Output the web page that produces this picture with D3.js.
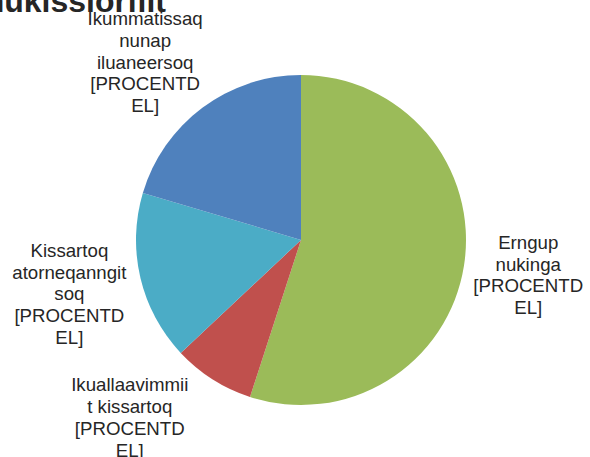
<!DOCTYPE html>
<html>
<head>
<meta charset="utf-8">
<script src="https://cdn.jsdelivr.net/npm/d3@7"></script>
<style>
  body { margin: 0; background: #fff; }
  text { font-family: Arial, 'Liberation Sans', sans-serif; }
</style>
</head>
<body>
<svg id="pie" width="590" height="457"></svg>
<script>
// data (share of the total, clockwise from 12 o'clock)
let categories = ['Erngup nukinga', 'Ikuallaavimmiit kissartoq', 'Kissartoq atorneqanngitsoq', 'Ikummatissaq nunap iluaneersoq']
let shares = [55.0, 8.0, 16.6, 20.4]
let labelLines = [
  ['Erngup', 'nukinga', '[PROCENTD', 'EL]'],
  ['Ikuallaavimmii', 't kissartoq', '[PROCENTD', 'EL]'],
  ['Kissartoq', 'atorneqanngit', 'soq', '[PROCENTD', 'EL]'],
  ['Ikummatissaq', 'nunap', 'iluaneersoq', '[PROCENTD', 'EL]']
]
let colors = ['#9bbb59', '#c0504d', '#4bacc6', '#4f81bd']
let title = 'nukissiorfiit'

let data = categories.map(function (c, i) { return { name: c, value: shares[i], lines: labelLines[i] } })

let svg = d3.select('#pie')
let cx = 301
let cy = 240
let radius = 165
let fontSize = 18.67
let lineH = 21.7
let labelDist = 176
let topLimit = 9 - cy
let bottomLimit = 462 - cy

// title, cropped at the top of the picture
svg.append('text')
  .attr('x', 166)
  .attr('y', 12)
  .attr('text-anchor', 'end')
  .attr('font-size', 32)
  .attr('font-weight', 'bold')
  .attr('fill', '#262626')
  .text(title)

let g = svg.append('g').attr('transform', 'translate(' + cx + ',' + cy + ')')

let color = d3.scaleOrdinal().domain(categories).range(colors)

let pie = d3.pie()
  .sort(null)
  .value(function (d) { return d.value })

let arc = d3.arc()
  .outerRadius(radius)
  .innerRadius(0)

let arcs = pie(data)

g.selectAll('.slice')
  .data(arcs)
  .enter().append('path')
  .attr('class', 'slice')
  .attr('d', arc)
  .attr('fill', function (d) { return color(d.data.name) })

// distance from pie centre to a box centred at (x, y)
function boxDist (x, y, a, b) {
  let dx = Math.max(Math.abs(x) - a, 0)
  let dy = Math.max(Math.abs(y) - b, 0)
  return Math.hypot(dx, dy)
}

// nearest distance from the pie centre to any line of a label centred at (x, y)
function labelGap (x, y, widths) {
  let top = y - widths.length * lineH / 2
  return d3.min(widths, function (w, i) {
    return boxDist(x, top + (i + 0.5) * lineH, w / 2, lineH / 2)
  })
}

function solve (f) {
  let lo = 0
  let hi = 800
  for (let k = 0; k < 60; k++) {
    let mid = (lo + hi) / 2
    if (f(mid) < labelDist) lo = mid
    else hi = mid
  }
  return (lo + hi) / 2
}

let labels = g.selectAll('.lbl')
  .data(arcs)
  .enter().append('text')
  .attr('class', 'lbl')
  .attr('font-size', fontSize)
  .attr('fill', '#262626')
  .attr('text-anchor', 'middle')

labels.each(function (d) {
  let t = d3.select(this)
  d.data.lines.forEach(function (line) {
    t.append('tspan').attr('x', 0).text(line)
  })
  let widths = t.selectAll('tspan').nodes().map(function (n) { return n.getComputedTextLength() })
  let b = widths.length * lineH / 2
  let ang = (d.startAngle + d.endAngle) / 2
  let ux = Math.sin(ang)
  let uy = -Math.cos(ang)
  let s = solve(function (k) { return labelGap(k * ux, k * uy, widths) })
  let px = s * ux
  let py = s * uy
  // keep the label inside the chart area, sliding it sideways round the pie
  if (py + b > bottomLimit || py - b < topLimit) {
    py = py + b > bottomLimit ? bottomLimit - b : topLimit + b
    let sx = ux < 0 ? -1 : 1
    px = sx * solve(function (k) { return labelGap(sx * k, py, widths) })
  }
  let y0 = py - b + lineH * 0.75
  t.selectAll('tspan')
    .attr('x', px)
    .attr('y', function (_, i) { return y0 + i * lineH })
})
</script>
</body>
</html>
